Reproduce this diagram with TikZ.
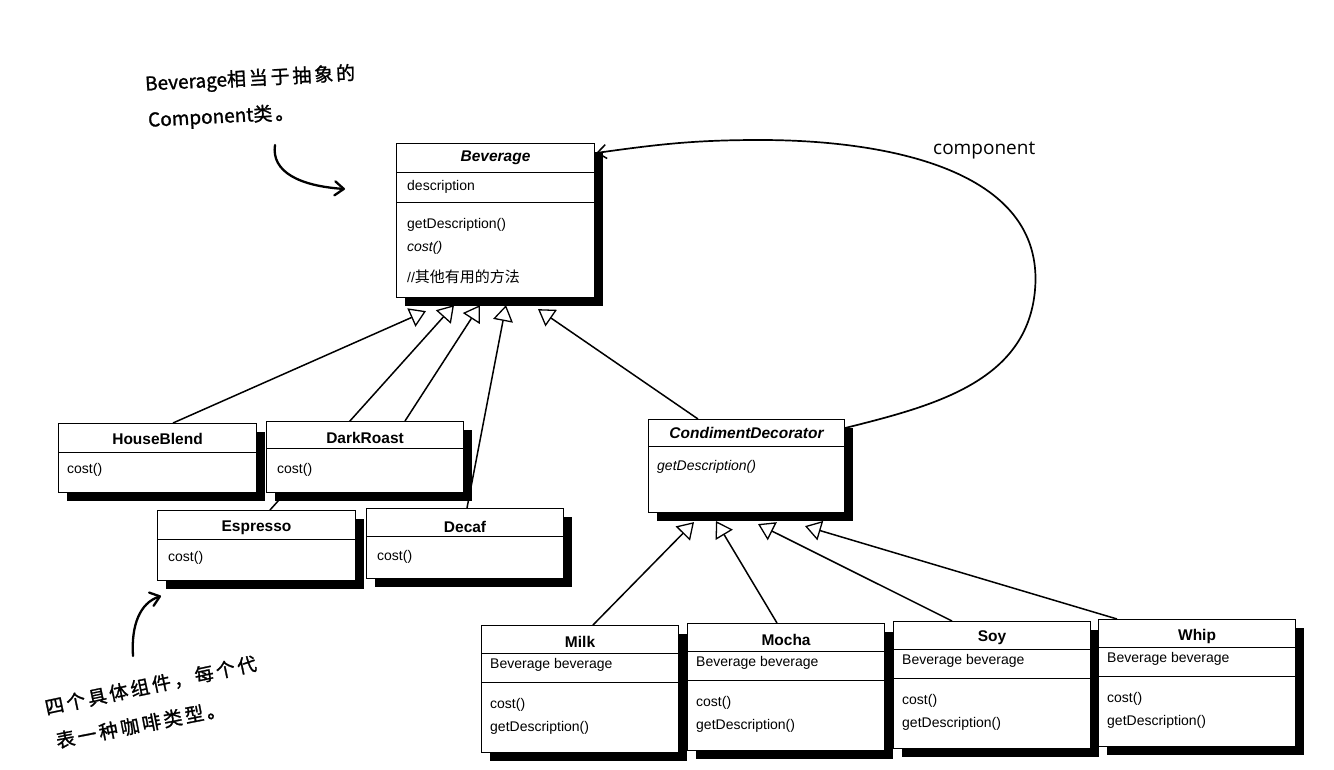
\documentclass[tikz,border=0pt]{standalone}
\usepackage{fontspec}
\setmainfont{Liberation Sans}
\newfontfamily\cjk{Noto Sans CJK SC}
\newfontfamily\handL{Noto Sans CJK SC}[FakeBold=1.2]
\newfontfamily\handC{Noto Sans CJK SC}[LetterSpace=15,FakeBold=1.2]
\newfontfamily\compfont{Open Sans}
\usetikzlibrary{arrows.meta,shadows,calc}
\pgfdeclarelayer{back}
\pgfdeclarelayer{bg}
\pgfsetlayers{back,bg,main}
\tikzset{
  umlbox/.style={draw, line width=1.1pt, fill=white, anchor=north west, inner sep=0pt,
    drop shadow={shadow xshift=8pt, shadow yshift=-8pt, opacity=1, fill=black}},
  ttl/.style={font=\fontsize{15.5}{18}\selectfont\bfseries, anchor=center, inner sep=0pt},
  ittl/.style={font=\fontsize{15.5}{18}\selectfont\bfseries\itshape, anchor=center, inner sep=0pt},
  mem/.style={font=\fontsize{14}{17}\selectfont, anchor=west, inner sep=0pt},
  imem/.style={font=\fontsize{14}{17}\selectfont\itshape, anchor=west, inner sep=0pt},
  divider/.style={line width=1pt},
  inh/.style={line width=1.5pt, -{Triangle[fill=white, length=16pt, width=20pt, line width=1.3pt]}},
  assoc/.style={line width=1.7pt, -{Straight Barb[length=9pt, width=14pt, line width=1.5pt]}},
  handarrow/.style={line width=2.3pt, line cap=round, -{Straight Barb[round, length=9pt, width=14pt, line width=2.3pt]}},
  hand/.style={inner sep=0pt, font=\fontsize{19}{22}\selectfont},
  complabel/.style={font=\compfont\fontsize{19}{22}\selectfont, inner sep=0pt}
}
\begin{document}
\begin{tikzpicture}[x=1pt,y=1pt]
\useasboundingbox (0,0) rectangle (1334,-770);
\begin{pgfonlayer}{back}
\fill[white] (0,0) rectangle (1334,-770);
\end{pgfonlayer}

% ---------- Beverage ----------
\node[umlbox, minimum width=198pt, minimum height=154pt] (bev) at (396,-143) {};
\draw[divider] ($(bev.north west)+(0,-30)$) -- ($(bev.north east)+(0,-30)$);
\draw[divider] ($(bev.north west)+(0,-60)$) -- ($(bev.north east)+(0,-60)$);
\node[ittl] (bevT) at ($(bev.north)+(0,-15)$) {Beverage};
\node[mem] (bevA) at ($(bev.north west)+(11,-44)$) {description};
\node[mem] (bevM1) at ($(bev.north west)+(11,-82)$) {getDescription()};
\node[imem] (bevM2) at ($(bev.north west)+(11,-105)$) {cost()};
\node[mem] (bevM3) at ($(bev.north west)+(11,-134)$) {//{\cjk\fontsize{15}{17}\selectfont 其他有用的方法}};

% ---------- concrete components ----------
\node[umlbox, minimum width=198pt, minimum height=69pt] (hb) at (58,-423) {};
\draw[divider] ($(hb.north west)+(0,-29)$) -- ($(hb.north east)+(0,-29)$);
\node[ttl] (hbT) at ($(hb.north)+(0,-16)$) {HouseBlend};
\node[mem] (hbM) at ($(hb.north west)+(9,-47)$) {cost()};

\node[umlbox, minimum width=197pt, minimum height=71pt] (dr) at (266,-421) {};
\draw[divider] ($(dr.north west)+(0,-27)$) -- ($(dr.north east)+(0,-27)$);
\node[ttl] (drT) at ($(dr.north)+(0,-17)$) {DarkRoast};
\node[mem] (drM) at ($(dr.north west)+(11,-49)$) {cost()};

\node[umlbox, minimum width=198pt, minimum height=70pt] (esp) at (157,-510) {};
\draw[divider] ($(esp.north west)+(0,-29)$) -- ($(esp.north east)+(0,-29)$);
\node[ttl] (espT) at ($(esp.north)+(0,-18)$) {Espresso};
\node[mem] (espM) at ($(esp.north west)+(11,-48)$) {cost()};

\node[umlbox, minimum width=197pt, minimum height=70pt] (dec) at (366,-508) {};
\draw[divider] ($(dec.north west)+(0,-28)$) -- ($(dec.north east)+(0,-28)$);
\node[ttl] (decT) at ($(dec.north)+(0,-19)$) {Decaf};
\node[mem] (decM) at ($(dec.north west)+(11,-49)$) {cost()};

% ---------- CondimentDecorator ----------
\node[umlbox, minimum width=196pt, minimum height=93pt] (cd) at (648,-419) {};
\draw[divider] ($(cd.north west)+(0,-27)$) -- ($(cd.north east)+(0,-27)$);
\node[ittl] (cdT) at ($(cd.north)+(0,-14)$) {CondimentDecorator};
\node[imem] (cdM) at ($(cd.north west)+(9,-48)$) {getDescription()};

% ---------- condiments ----------
\foreach \nm/\ttltext/\xx/\yy in {milk/Milk/481/625, mocha/Mocha/687/623, soy/Soy/893/621, whip/Whip/1098/619}{
  \node[umlbox, minimum width=197pt, minimum height=127pt] (\nm) at (\xx,-\yy) {};
  \draw[divider] ($(\nm.north west)+(0,-28)$) -- ($(\nm.north east)+(0,-28)$);
  \draw[divider] ($(\nm.north west)+(0,-57)$) -- ($(\nm.north east)+(0,-57)$);
  \node[ttl] (\nm T) at ($(\nm.north)+(0,-17)$) {\ttltext};
  \node[mem] (\nm A) at ($(\nm.north west)+(9,-40)$) {Beverage beverage};
  \node[mem] (\nm M1) at ($(\nm.north west)+(9,-80)$) {cost()};
  \node[mem] (\nm M2) at ($(\nm.north west)+(9,-103)$) {getDescription()};
}

% ---------- inheritance connectors ----------
\coordinate (t1) at ($(bev.south west)+(30,-13)$);
\coordinate (t2) at ($(bev.south west)+(58,-7)$);
\coordinate (t3) at ($(bev.south west)+(84,-7)$);
\coordinate (t4) at ($(bev.south west)+(110,-7)$);
\coordinate (t5) at ($(bev.south west)+(142,-11)$);
\coordinate (c1) at ($(cd.south west)+(46,-9)$);
\coordinate (c2) at ($(cd.south west)+(68,-8)$);
\coordinate (c3) at ($(cd.south west)+(110,-11)$);
\coordinate (c4) at ($(cd.south west)+(157,-13)$);
\begin{pgfonlayer}{bg}
\draw[inh] ($(hb.north west)+(115,0)$) -- (t1);
\draw[inh] ($(esp.north west)+(113,0)$) -- (t2);
\draw[inh] ($(dr.north west)+(139,0)$) -- (t3);
\draw[inh] ($(dec.north west)+(101,0)$) -- (t4);
\draw[inh] ($(cd.north west)+(50,0)$) -- (t5);
\draw[inh] ($(milk.north west)+(112,0)$) -- (c1);
\draw[inh] ($(mocha.north west)+(90,0)$) -- (c2);
\draw[inh] ($(soy.north west)+(59,0)$) -- (c3);
\draw[inh] ($(whip.north west)+(19,0)$) -- (c4);
\end{pgfonlayer}

% ---------- component association ----------
\coordinate (arcR) at (1035,-290);
\coordinate (arcT) at (760,-140);
\draw[assoc] ($(cd.north east)+(0,-9)$) to[out=14,in=-95] (arcR) to[out=85,in=0] (arcT) to[out=180,in=8] ($(bev.north east)+(1,-10)$);
\node[complabel, anchor=west] (comp) at (933,-151) {component};

% ---------- handwritten notes ----------
\node[hand, anchor=west, rotate=3] (note1a) at (145,-85) {{\handL Beverage}{\handC 相当于抽象的}};
\node[hand, anchor=west, rotate=3] (note1b) at (148,-121) {{\handL Component}{\handC 类。}};
\coordinate (n1s) at (275,-145);
\coordinate (n1e) at (345,-189);
\draw[handarrow] (n1s) .. controls (271,-172) and (300,-186) .. (n1e);

\node[hand, anchor=west, rotate=12] (note2a) at (45,-708) {\handC 四个具体组件，每个代};
\node[hand, anchor=west, rotate=11] (note2b) at (56,-741) {\handC 表一种咖啡类型。};
\coordinate (n2s) at (133,-656);
\coordinate (n2e) at (161,-596);
\draw[handarrow] (n2s) .. controls (131,-625) and (140,-603) .. (n2e);
\end{tikzpicture}
\end{document}
